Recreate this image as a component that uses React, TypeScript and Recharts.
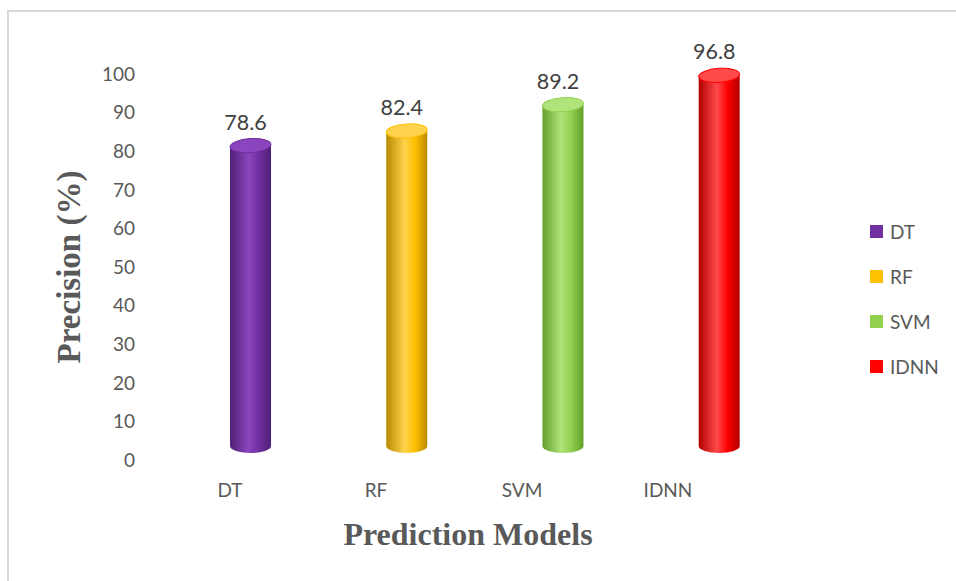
import React from "react";
import { Bar, BarChart, LabelList, XAxis, YAxis, Label } from "recharts";

const models = ["DT", "RF", "SVM", "IDNN"];
const precision = [78.6, 82.4, 89.2, 96.8];
const yTicks = [0, 10, 20, 30, 40, 50, 60, 70, 80, 90, 100];
const colors = ["#7030A0", "#FFC000", "#92D050", "#FF0000"];
const darks = ["#4f1f74", "#b98a00", "#62a02a", "#b00000"];
const lights = ["#8a45bf", "#ffd24d", "#b0e37a", "#ff4a4a"];

const data = models.map((m, i) => ({ model: m, value: precision[i] }));

const W = 956;
const H = 581;
const PLOT_LEFT = 157;
const PLOT_TOP = 74;
const PLOT_BOTTOM = 460;
const BAND = 146;
const text = "#595959";
const sans = "Lato, 'Open Sans', sans-serif";
const serif = "'Liberation Serif', 'DejaVu Serif', serif";

// excel's 3d view pushes the cylinders right a little more the further right they are
const shift = (cx: number) => 20 + (cx - PLOT_LEFT - BAND / 2) * 0.07;

const Cylinder = (props: any) => {
  const { x, y, width, height, index } = props;
  const cx = x + width / 2 + shift(x + width / 2);
  const rx = 20.5;
  const ry = 7;
  const topY = y - 11;
  const botY = y + height - 14;
  const id = `cyl${index}`;
  return (
    <g>
      <defs>
        <linearGradient id={id} x1="0" y1="0" x2="1" y2="0">
          <stop offset="0%" stopColor={darks[index]} />
          <stop offset="45%" stopColor={lights[index]} />
          <stop offset="70%" stopColor={colors[index]} />
          <stop offset="100%" stopColor={darks[index]} />
        </linearGradient>
      </defs>
      <path
        d={`M${cx - rx},${topY} L${cx - rx},${botY} A${rx},${ry} 0 0 0 ${cx + rx},${botY} L${cx + rx},${topY} Z`}
        fill={`url(#${id})`}
      />
      <ellipse
        cx={cx}
        cy={topY}
        rx={rx}
        ry={ry}
        fill={lights[index]}
        stroke={colors[index]}
        strokeWidth={1}
        transform={`rotate(-4 ${cx} ${topY})`}
      />
    </g>
  );
};

const ValueLabel = (props: any) => {
  const { x, y, width, value } = props;
  const cx = x + width / 2 + shift(x + width / 2) - 5;
  return (
    <text x={cx} y={y - 27} textAnchor="middle" fill="#404040" fontSize={21.5} fontFamily={sans}>
      {value}
    </text>
  );
};

export default function App() {
  return (
    <div style={{ position: "absolute", left: 0, top: 0, width: W, height: H, background: "#fff", overflow: "hidden" }}>
      <div
        style={{
          position: "absolute",
          left: 7,
          top: 10,
          right: 0,
          bottom: 0,
          borderTop: "2px solid #d9d9d9",
          borderLeft: "2px solid #d9d9d9",
        }}
      />
      <BarChart
        width={W}
        height={H}
        data={data}
        margin={{ top: PLOT_TOP, right: W - PLOT_LEFT - BAND * 4, bottom: 0, left: 0 }}
        barSize={41}
        style={{ position: "absolute", left: 0, top: 0 }}
      >
        <XAxis
          dataKey="model"
          axisLine={false}
          tickLine={false}
          tickSize={0}
          tickMargin={24}
          height={H - PLOT_BOTTOM}
          tick={{ fill: text, fontSize: 19, fontFamily: sans }}
        >
          <Label
            value="Prediction Models"
            position="insideTop"
            offset={62}
            dx={19}
            style={{ fill: text, fontSize: 32, fontWeight: 700, fontFamily: serif }}
          />
        </XAxis>
        <YAxis
          domain={[0, 100]}
          ticks={yTicks}
          interval={0}
          axisLine={false}
          tickLine={false}
          tickSize={0}
          tickMargin={22}
          width={PLOT_LEFT}
          tick={{ fill: text, fontSize: 19, fontFamily: sans }}
        >
          <Label
            value="Precision (%)"
            angle={-90}
            position="insideLeft"
            offset={68}
            style={{ fill: text, fontSize: 33, fontWeight: 700, fontFamily: serif, textAnchor: "middle" }}
          />
        </YAxis>
        <Bar dataKey="value" shape={<Cylinder />} isAnimationActive={false}>
          <LabelList dataKey="value" content={<ValueLabel />} />
        </Bar>
      </BarChart>
      <div style={{ position: "absolute", left: 870, top: 209, fontFamily: sans, fontSize: 19, color: text }}>
        {models.map((m, i) => (
          <div key={m} style={{ display: "flex", alignItems: "center", height: 45 }}>
            <span style={{ width: 13, height: 13, background: colors[i], marginRight: 7, display: "inline-block" }} />
            {m}
          </div>
        ))}
      </div>
    </div>
  );
}
